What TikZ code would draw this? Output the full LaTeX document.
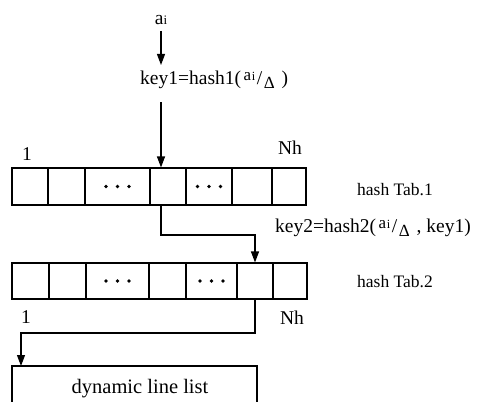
\documentclass[tikz,border=0pt]{standalone}
\usepackage{fontspec}
\setmainfont{Liberation Serif}
\usetikzlibrary{arrows.meta,calc}
\newcommand\aifrac{\kern2.5pt{\fontsize{17}{17}\selectfont\raisebox{4pt}{a\kern0.8pt{\fontsize{12.5}{12.5}\selectfont i}}}\kern1.5pt/\kern1.5pt\raisebox{-4pt}{\fontsize{17}{17}\selectfont Δ}\kern2pt}
\begin{document}
\begin{tikzpicture}[x=1pt,y=-1pt,
  every node/.style={font=\fontsize{19.5}{22}\selectfont},
  cellbox/.style={draw,line width=1.1pt,inner sep=0pt,minimum height=#1},
  lbl/.style={inner sep=0pt},
  tablbl/.style={inner sep=0pt,font=\fontsize{17.5}{20}\selectfont},
  arr/.style={line width=1.1pt,-{Triangle[length=11pt,width=8pt]}},
  plain/.style={line width=1.1pt}]
\useasboundingbox (0,0) rectangle (478,401);
% top label and key1
\node[lbl] (ai) at (161,20) {a{\fontsize{13}{13}\selectfont i}};
\node[lbl,anchor=west,inner ysep=3pt] (key1) at (140,80) {key1=hash1(\aifrac\ )};
\draw[arr] ([yshift=-6pt]ai.south) -- (ai.south |- 0,65);
% table 1
\foreach \n/\c/\w in {1/30/36,2/66.5/37,3/117.5/65,4/168/36,5/209/46,6/252/40,7/289/34}
  \node[cellbox=37pt,minimum width=\w pt] (t1c\n) at (\c,186.5) {};
% table 2
\foreach \n/\c/\w in {1/30.5/37,2/67.5/37,3/117.5/63,4/167.5/37,5/211.5/51,6/255/36,7/290/34}
  \node[cellbox=36pt,minimum width=\w pt] (t2c\n) at (\c,281) {};
\foreach \t in {t1c3,t1c5,t2c3,t2c5}
  \foreach \d in {-11.5,0,11.5}
    \fill ([xshift=\d pt]\t) circle (1.9pt);
\draw[arr] (ai.south |- 0,102) -- (ai.south |- t1c4.north);
% labels
\node[lbl] (one1) at (27,154) {1};
\node[lbl] (nh1) at (290,148) {Nh};
\node[tablbl,anchor=west] (tab1) at (357,190) {hash Tab.1};
\node[lbl,anchor=west] (key2) at (275,228) {key2=hash2(\aifrac\ , key1)};
\node[tablbl,anchor=west] (tab2) at (357,282) {hash Tab.2};
\node[lbl] (one2) at (26,317) {1};
\node[lbl] (nh2) at (292,318) {Nh};
% connector table1 -> table2
\coordinate (j1) at (0,235);
\draw[arr] (t1c4.south -| ai.south) -- (ai.south |- j1) -| (t2c6.north);
% list box
\coordinate (bl) at (12,406);
\coordinate (tl) at (12,366);
\coordinate (tr) at (257,366);
\coordinate (br) at (257,406);
\draw[plain] (bl) -- (tl) -- (tr) -- (br);
\node[lbl,font=\fontsize{20.5}{24}\selectfont] (dll) at (140,389) {dynamic line list};
\coordinate (j2) at (0,333);
\draw[arr] (t2c6.south) -- (t2c6.south |- j2) -| ([xshift=9pt]tl);
\end{tikzpicture}
\end{document}
